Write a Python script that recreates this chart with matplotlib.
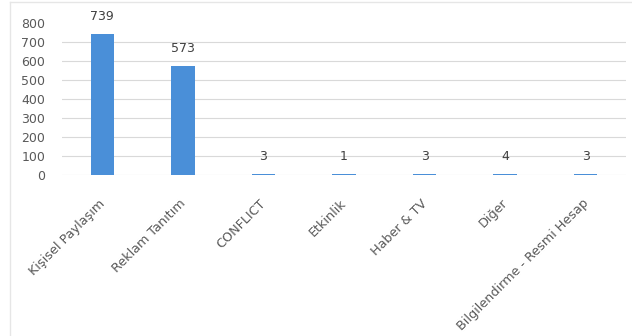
import matplotlib
matplotlib.use("Agg")
import matplotlib.pyplot as plt
import matplotlib.transforms as mtransforms
from matplotlib.lines import Line2D

categories = ["Kişisel Paylaşım", "Reklam Tanıtım", "CONFLICT", "Etkinlik",
              "Haber & TV", "Diğer", "Bilgilendirme - Resmi Hesap"]
values = [739, 573, 3, 1, 3, 4, 3]
yticks = [0, 100, 200, 300, 400, 500, 600, 700, 800]

plt.rcParams['font.family'] = ['DejaVu Sans']
fig = plt.figure(figsize=(6.32, 3.36), dpi=100)
fig.patch.set_facecolor('white')
ax = fig.add_axes([62/632, 1 - 174.5/336, (626 - 62)/632, (174.5 - 22.7)/336])

x = list(range(len(categories)))
ax.bar(x, values, width=0.29, color='#4a8fd8', zorder=3)
ax.set_xlim(-0.5, len(categories) - 0.5)
ax.set_ylim(0, 800)
ax.set_yticks(yticks)
ax.set_yticklabels([str(t) for t in yticks], fontsize=9, color='#595959')
for t in yticks[:-1]:
    ax.axhline(t, color='#d9d9d9', lw=0.8, zorder=1)
ax.set_xticks(x)
ax.set_xticklabels(categories, rotation=45, ha='right', rotation_mode='anchor',
                   fontsize=9.2, color='#595959')
ax.tick_params(axis='both', length=0)
ax.tick_params(axis='x', pad=16)
ax.tick_params(axis='y', pad=12)
offset = mtransforms.ScaledTranslation(-4/100, 0, fig.dpi_scale_trans)
for lab in ax.get_xticklabels():
    lab.set_transform(lab.get_transform() + offset)
for s in ax.spines.values():
    s.set_visible(False)

for xi, v in zip(x, values):
    ax.annotate(str(v), (xi, v), xytext=(0, 12.6), textcoords='offset points',
                ha='center', va='center', fontsize=9, color='#404040')

fig.add_artist(Line2D([9.5/632, 9.5/632], [0, 1 - 2/336], color='#e6e6e6', lw=1))
fig.add_artist(Line2D([9.5/632, 1], [1 - 2/336, 1 - 2/336], color='#e6e6e6', lw=1))

fig.savefig('out.png', dpi=100, facecolor='white')
